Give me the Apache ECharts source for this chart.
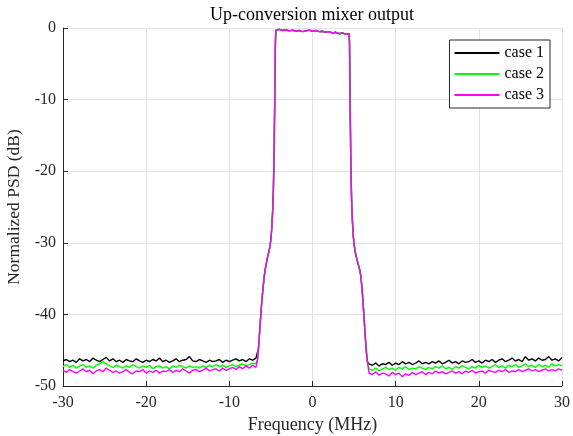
<!DOCTYPE html>
<html>
<head>
<meta charset="utf-8">
<script src="https://cdn.jsdelivr.net/npm/echarts@6/dist/echarts.min.js"></script>
<style>
  html, body { margin: 0; padding: 0; background: #fff; }
  #main { width: 573px; height: 436px; }
</style>
</head>
<body>
<div id="main"></div>
<script>
// 图表数据
const seriesNames = ['case 1', 'case 2', 'case 3']
const seriesColors = ['#000000', '#00ff00', '#ff00ff']
const xTicks = [-30, -20, -10, 0, 10, 20, 30]
const yTicks = [-50, -40, -30, -20, -10, 0]

// 噪声底: 左边 -30 ~ -6.8 MHz, 右边 6.8 ~ 30 MHz, 每 0.4 MHz 一个点
const case1Left = [
  -46.5, -46.3, -46.6, -46.4, -46.7, -46.2, -46.5, -46.3, -46.6, -46.1,
  -46.4, -46.6, -46.3, -46.0, -46.5, -46.2, -46.6, -46.4, -46.7, -46.3,
  -46.5, -46.6, -46.2, -46.5, -46.7, -46.4, -46.6, -46.3, -46.5, -46.1,
  -46.6, -46.4, -46.7, -46.5, -46.2, -46.6, -46.4, -46.3, -45.9, -46.5,
  -46.6, -46.3, -46.5, -46.7, -46.4, -46.6, -46.5, -46.3, -46.7, -46.4,
  -46.6, -46.4, -46.2, -46.5, -46.3, -46.6, -46.2, -46.4, -46.1
]
const case2Left = [
  -47.3, -47.0, -47.4, -47.1, -47.5, -47.2, -47.0, -47.4, -47.2, -47.5,
  -47.1, -46.9, -46.6, -46.9, -47.2, -47.4, -47.1, -47.3, -47.5, -47.2,
  -47.4, -47.0, -47.3, -47.5, -47.2, -47.4, -47.1, -47.6, -47.3, -47.2,
  -47.5, -47.3, -47.6, -47.2, -47.4, -47.1, -47.3, -47.5, -47.2, -47.4,
  -47.3, -47.5, -47.2, -47.4, -47.1, -47.3, -47.0, -47.3, -47.1, -47.4,
  -47.2, -47.0, -47.3, -47.1, -46.9, -47.2, -47.0, -46.8, -46.9
]
const case3Left = [
  -47.8, -48.1, -47.7, -48.0, -48.2, -47.9, -47.6, -48.0, -47.8, -48.3,
  -47.9, -47.7, -48.0, -47.5, -47.8, -48.1, -47.9, -48.2, -48.0, -47.7,
  -48.1, -48.3, -47.9, -48.0, -47.7, -48.2, -47.9, -48.1, -47.8, -48.2,
  -47.9, -48.0, -47.7, -48.1, -47.8, -48.0, -47.6, -47.9, -48.2, -47.8,
  -47.7, -48.0, -47.8, -47.5, -47.9, -47.7, -47.6, -47.9, -47.5, -47.8,
  -47.6, -47.4, -47.7, -47.3, -47.6, -47.2, -47.5, -47.1, -47.4
]
const case1Right = [
  -46.9, -47.1, -46.8, -47.2, -46.9, -47.0, -46.7, -47.1, -46.8, -47.0,
  -46.6, -46.9, -46.7, -47.0, -46.8, -46.5, -46.9, -46.7, -46.9, -46.6,
  -46.8, -46.5, -46.9, -46.7, -46.4, -46.8, -46.6, -46.9, -46.5, -46.7,
  -46.6, -46.3, -46.7, -46.5, -46.8, -46.4, -46.6, -46.3, -46.7, -46.4,
  -46.2, -46.6, -46.4, -46.1, -46.5, -46.3, -46.6, -45.9, -46.4, -46.2,
  -46.5, -46.1, -46.4, -46.3, -45.9, -46.4, -46.2, -46.5, -46.0
]
const case2Right = [
  -47.6, -47.8, -47.5, -47.9, -47.6, -47.4, -47.7, -47.5, -47.8, -47.4,
  -47.6, -47.3, -47.7, -47.5, -47.6, -47.3, -47.5, -47.7, -47.4, -47.6,
  -47.3, -47.5, -47.2, -47.6, -47.4, -47.7, -47.3, -47.5, -47.2, -47.4,
  -47.6, -47.3, -47.5, -47.1, -47.4, -47.2, -47.5, -47.3, -47.0, -47.4,
  -47.2, -47.5, -47.1, -47.3, -47.0, -47.4, -47.2, -46.9, -47.3, -47.1,
  -47.4, -47.0, -47.3, -47.1, -47.4, -46.9, -47.2, -47.0, -47.2
]
const case3Right = [
  -48.2, -48.4, -48.0, -48.5, -48.2, -48.3, -48.6, -48.1, -48.4, -48.2,
  -48.7, -48.3, -48.5, -48.1, -48.4, -48.2, -48.0, -48.4, -48.1, -48.3,
  -47.9, -48.2, -48.0, -48.3, -48.1, -47.9, -48.2, -48.0, -48.3, -47.9,
  -48.1, -47.8, -48.2, -48.0, -47.9, -48.2, -47.8, -48.0, -48.1, -47.8,
  -48.0, -47.7, -48.1, -47.9, -48.0, -47.7, -48.0, -47.8, -47.6, -47.9,
  -47.7, -48.0, -47.8, -47.6, -47.9, -47.7, -47.9, -47.6, -47.8
]

// 通带和过渡带 (三条曲线基本重合)
const bandFreq = [
  -6.6, -6.5, -6.4, -6.3, -6.2, -6.1, -6.0, -5.9, -5.8, -5.7, -5.6, -5.5,
  -5.4, -5.3, -5.2, -5.1, -5.0, -4.9, -4.8, -4.7, -4.6, -4.5, -4.45,
  -4.4, -4.0, -3.6, -3.2, -2.8, -2.4, -2.0, -1.6, -1.2, -0.8, -0.4, 0.0,
  0.4, 0.8, 1.2, 1.6, 2.0, 2.4, 2.8, 3.2, 3.6, 4.0, 4.4,
  4.45, 4.5, 4.6, 4.7, 4.8, 4.9, 5.0, 5.1, 5.2, 5.3, 5.4, 5.5,
  5.6, 5.7, 5.8, 5.9, 6.0, 6.1, 6.2, 6.3, 6.4, 6.5, 6.6
]
const bandLevel = [
  -46.3, -44.8, -43.2, -41.5, -39.8, -38.3, -37.0, -35.8, -34.7, -33.8, -33.2, -32.6,
  -32.0, -31.5, -31.0, -30.4, -29.5, -28.0, -25.8, -22.5, -16.0, -6.0, -1.5,
  -0.3, -0.2, -0.35, -0.25, -0.4, -0.3, -0.45, -0.35, -0.5, -0.4, -0.3, -0.45,
  -0.35, -0.5, -0.45, -0.6, -0.5, -0.7, -0.6, -0.8, -0.7, -0.85, -0.8,
  -2.0, -8.0, -18.0, -24.0, -27.0, -29.0, -30.2, -31.0, -31.6, -32.1, -32.6, -33.0,
  -33.4, -33.9, -34.6, -35.7, -37.1, -38.7, -40.5, -42.3, -44.0, -45.5, -46.6
]

const leftFloors = [case1Left, case2Left, case3Left]
const rightFloors = [case1Right, case2Right, case3Right]

// 拼成 [频率, 电平]
function buildSeries(left, right) {
  let pts = []
  left.forEach((v, i) => pts.push([+(-30 + 0.4 * i).toFixed(2), v]))
  bandFreq.forEach((f, i) => pts.push([f, bandLevel[i]]))
  right.forEach((v, i) => pts.push([+(30 - 0.4 * (right.length - 1 - i)).toFixed(2), v]))
  return pts
}

const serifFont = '"Liberation Serif", "DejaVu Serif", serif'

var chart = echarts.init(document.getElementById('main'), null, { renderer: 'canvas' })

var option = {
  animation: false,
  backgroundColor: '#fff',
  grid: { left: 63, right: 11, top: 28, bottom: 50, containLabel: false, outerBoundsMode: 'none' },
  graphic: [{
    type: 'text',
    x: 312,
    y: 15,
    style: {
      text: 'Up-conversion mixer output',
      font: '18px ' + serifFont,
      fill: '#000',
      align: 'center',
      verticalAlign: 'middle',
      textAlign: 'center',
      textVerticalAlign: 'middle'
    }
  }],
  legend: {
    orient: 'vertical',
    right: 23,
    top: 40,
    padding: [5, 6, 5, 5],
    itemGap: 5,
    itemWidth: 45,
    itemHeight: 2,
    icon: 'rect',
    backgroundColor: '#fff',
    borderColor: '#262626',
    borderWidth: 1,
    borderRadius: 0,
    textStyle: { fontFamily: serifFont, fontSize: 16, lineHeight: 16, color: '#000' },
    data: seriesNames
  },
  xAxis: {
    type: 'value',
    min: -30,
    max: 30,
    interval: 10,
    name: 'Frequency (MHz)',
    nameLocation: 'middle',
    nameGap: 29,
    nameTextStyle: { fontFamily: serifFont, fontSize: 18, color: '#262626' },
    axisLine: { show: true, onZero: false, lineStyle: { color: '#262626', width: 1 } },
    axisTick: { show: true, inside: true, length: 5, lineStyle: { color: '#262626' } },
    axisLabel: { fontFamily: serifFont, fontSize: 16, color: '#262626', margin: 9 },
    splitLine: { show: true, lineStyle: { color: '#e3e3e3', width: 1 } }
  },
  yAxis: {
    type: 'value',
    min: -50,
    max: 0,
    interval: 10,
    name: 'Normalized PSD (dB)',
    nameLocation: 'middle',
    nameGap: 40,
    nameTextStyle: { fontFamily: serifFont, fontSize: 17.5, color: '#262626' },
    axisLine: { show: true, onZero: false, lineStyle: { color: '#262626', width: 1 } },
    axisTick: { show: true, inside: true, length: 5, lineStyle: { color: '#262626' } },
    axisLabel: { fontFamily: serifFont, fontSize: 16, color: '#262626', margin: 7 },
    splitLine: { show: true, lineStyle: { color: '#e3e3e3', width: 1 } }
  },
  series: seriesNames.map((name, k) => ({
    name: name,
    type: 'line',
    showSymbol: false,
    symbol: 'none',
    color: seriesColors[k],
    lineStyle: { color: seriesColors[k], width: 1.4 },
    data: buildSeries(leftFloors[k], rightFloors[k])
  }))
}

chart.setOption(option)
</script>
</body>
</html>
